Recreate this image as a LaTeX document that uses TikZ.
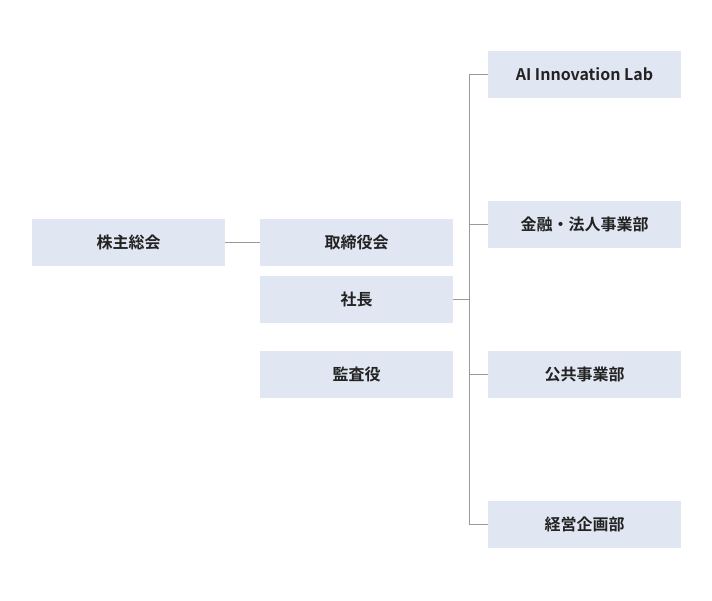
\documentclass[tikz,border=0pt]{standalone}
\usepackage{fontspec}
\setmainfont{Noto Sans CJK JP}[BoldFont={* Bold}]
\definecolor{boxfill}{HTML}{E1E7F2}
\definecolor{linegray}{HTML}{999999}
\definecolor{txt}{HTML}{222222}
\begin{document}
\begin{tikzpicture}[x=1pt,y=-1pt,
  orgbox/.style={fill=boxfill,draw=none,minimum width=193pt,minimum height=47pt,inner sep=0pt,text=txt,font=\fontsize{16pt}{19pt}\selectfont\bfseries},
  conn/.style={draw=linegray,line width=1pt}]
\useasboundingbox (0,0) rectangle (712,600);
\node[orgbox] (gm) at (128.5,242.5) {株主総会};
\node[orgbox] (bod) at (356.5,242.5) {取締役会};
\node[orgbox] (pres) at (356.5,299.5) {社長};
\node[orgbox] (aud) at (356.5,374.5) {監査役};
\node[orgbox] (ai) at (584.5,74.5) {AI Innovation Lab};
\node[orgbox] (fin) at (584.5,224.5) {金融・法人事業部};
\node[orgbox] (pub) at (584.5,374.5) {公共事業部};
\node[orgbox] (plan) at (584.5,524.5) {経営企画部};
\coordinate (bus) at (469.5,299.5);
\draw[conn] (gm.east) -- (bod.west);
\draw[conn] (pres.east) -- (bus);
\draw[conn] (ai.west) -| (bus) |- (plan.west);
\draw[conn] (fin.west) -- (fin.west -| bus);
\draw[conn] (pub.west) -- (pub.west -| bus);
\end{tikzpicture}
\end{document}
